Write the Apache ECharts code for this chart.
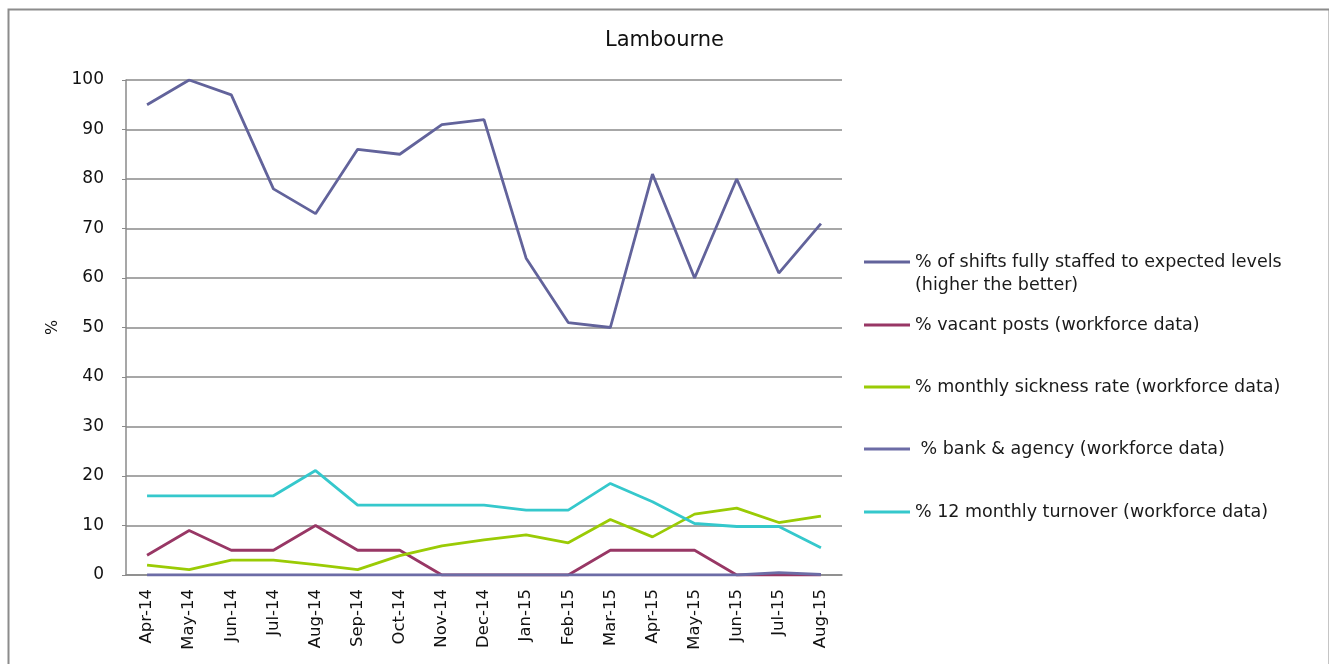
<!DOCTYPE html>
<html>
<head>
<meta charset="utf-8">
<title>Lambourne</title>
<script src="https://cdn.jsdelivr.net/npm/echarts@6/dist/echarts.min.js"></script>
<style>
  html, body { margin: 0; padding: 0; background: #ffffff; }
  #chart { width: 1329px; height: 664px; }
</style>
</head>
<body>
<div id="chart"></div>
<script>
// Monthly workforce indicators for Lambourne ward
const months = ['Apr-14', 'May-14', 'Jun-14', 'Jul-14', 'Aug-14', 'Sep-14', 'Oct-14', 'Nov-14', 'Dec-14',
                'Jan-15', 'Feb-15', 'Mar-15', 'Apr-15', 'May-15', 'Jun-15', 'Jul-15', 'Aug-15'];

const shiftsStaffed = [95, 100, 97, 78, 73, 86, 85, 91, 92, 64, 51, 50, 81, 60, 80, 61, 71];
const vacantPosts   = [4, 9, 5, 5, 10, 5, 5, 0, 0, 0, 0, 5, 5, 5, 0, 0, 0];
const sicknessRate  = [2.0, 1.1, 3.0, 3.0, 2.1, 1.1, 3.9, 5.9, 7.1, 8.1, 6.5, 11.2, 7.7, 12.3, 13.5, 10.6, 11.9];
const bankAgency    = [0, 0, 0, 0, 0, 0, 0, 0, 0, 0, 0, 0, 0, 0, 0, 0.5, 0.1];
const turnover      = [16, 16, 16, 16, 21.1, 14.1, 14.1, 14.1, 14.1, 13.1, 13.1, 18.5, 14.8, 10.4, 9.8, 9.8, 5.5];

const yTicks = { min: 0, max: 100, interval: 10 };

const names = {
  staffed: '% of shifts fully staffed to expected levels',
  vacant: '% vacant posts (workforce data)',
  sickness: '% monthly sickness rate (workforce data)',
  bank: ' % bank & agency (workforce data)',
  turnover: '% 12 monthly turnover (workforce data)'
};
const staffedSecondLine = '(higher the better)';

const colors = {
  staffed: '#62639b',
  vacant: '#983765',
  sickness: '#9acb05',
  bank: '#6c6ca6',
  turnover: '#35c8cc'
};

const FONT = 'DejaVu Sans';
const LEGEND_SIZE = 17.5;
const gridLine = '#8a8a8a';

function lineSeries(key, values) {
  return {
    name: names[key],
    type: 'line',
    data: values,
    symbol: 'none',
    smooth: false,
    lineStyle: { color: colors[key], width: 2.8 },
    itemStyle: { color: colors[key] },
    emphasis: { disabled: true },
    animation: false
  };
}

function legendFor(key, top) {
  return {
    data: [names[key]],
    left: 864,
    top: top,
    padding: 0,
    orient: 'vertical',
    icon: 'rect',
    itemWidth: 46,
    itemHeight: 3,
    itemGap: 0,
    selectedMode: false,
    textStyle: { fontFamily: FONT, fontSize: LEGEND_SIZE, color: '#1a1a1a', lineHeight: 20 }
  };
}

const chart = echarts.init(document.getElementById('chart'), null, { renderer: 'canvas' });

chart.setOption({
  backgroundColor: '#ffffff',
  animation: false,
  title: {
    text: 'Lambourne',
    left: 'center',
    top: 30,
    padding: 0,
    textStyle: { fontFamily: FONT, fontSize: 21, fontWeight: 'normal', color: '#111111' }
  },
  grid: { left: 126, right: 487, top: 80, bottom: 89, containLabel: false },
  xAxis: {
    type: 'category',
    data: months,
    boundaryGap: true,
    axisLine: { show: true, lineStyle: { color: gridLine, width: 1.5 } },
    axisTick: { show: false },
    axisLabel: {
      rotate: 90,
      margin: 14,
      interval: 0,
      fontFamily: FONT,
      fontSize: 16.5,
      color: '#111111'
    },
    splitLine: { show: false }
  },
  yAxis: {
    type: 'value',
    min: yTicks.min,
    max: yTicks.max,
    interval: yTicks.interval,
    name: '%',
    nameLocation: 'middle',
    nameGap: 64,
    nameRotate: 90,
    nameTextStyle: { fontFamily: FONT, fontSize: 16, color: '#111111' },
    axisLine: { show: true, lineStyle: { color: gridLine, width: 1.5 } },
    axisTick: { show: true, inside: false, length: 4, lineStyle: { color: gridLine } },
    axisLabel: { margin: 22, fontFamily: FONT, fontSize: 17, color: '#111111' },
    splitLine: { show: true, lineStyle: { color: gridLine, width: 1.5 } }
  },
  legend: [
    legendFor('staffed', 252),
    legendFor('vacant', 315),
    legendFor('sickness', 377),
    legendFor('bank', 439),
    legendFor('turnover', 502)
  ],
  graphic: [
    {
      type: 'rect',
      left: 6, top: 7,
      shape: { width: 1321, height: 680 },
      style: { fill: 'none', stroke: '#8c8c8c', lineWidth: 2 },
      silent: true
    },
    {
      type: 'text',
      left: 915,
      top: 276,
      style: { text: staffedSecondLine, font: LEGEND_SIZE + 'px "DejaVu Sans"', fill: '#1a1a1a' },
      silent: true
    }
  ],
  series: [
    lineSeries('staffed', shiftsStaffed),
    lineSeries('vacant', vacantPosts),
    lineSeries('sickness', sicknessRate),
    lineSeries('bank', bankAgency),
    lineSeries('turnover', turnover)
  ]
});
</script>
</body>
</html>
